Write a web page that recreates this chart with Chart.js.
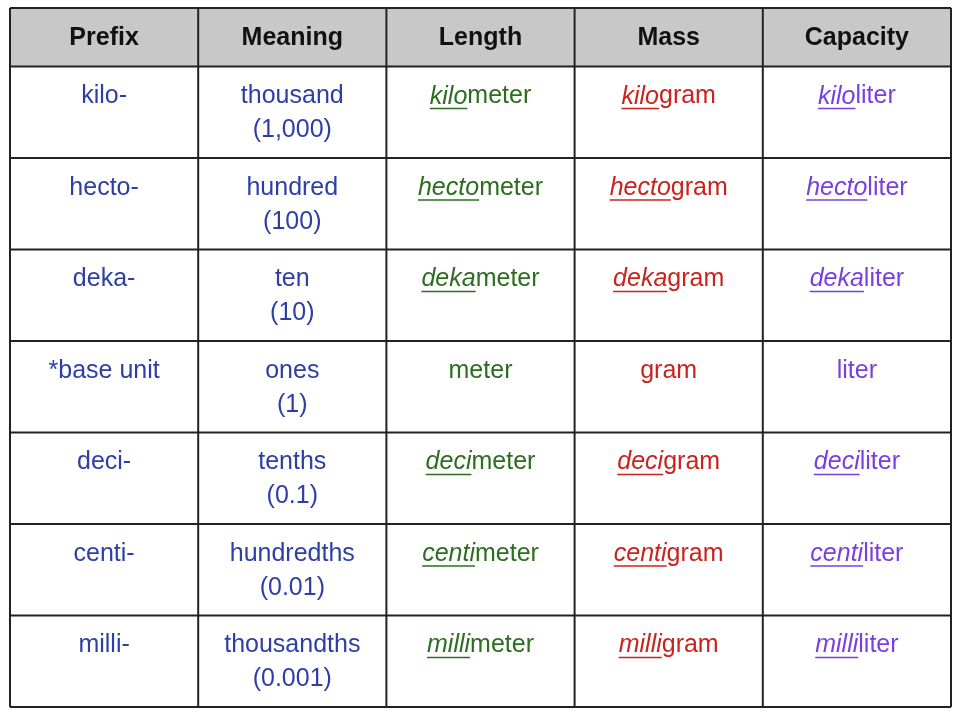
<!DOCTYPE html>
<html><head><meta charset="utf-8">
<script src="https://cdn.jsdelivr.net/npm/chart.js@4"></script>
<style>html,body{margin:0;padding:0;background:#fff}#c{display:block}</style>
</head><body>
<canvas id="c" width="960" height="720"></canvas>
<script>
const headers = ["Prefix","Meaning","Length","Mass","Capacity"];
const prefixes = ["kilo-","hecto-","deka-","*base unit","deci-","centi-","milli-"];
const meanings = ["thousand","hundred","ten","ones","tenths","hundredths","thousandths"];
const meaningValues = ["(1,000)","(100)","(10)","(1)","(0.1)","(0.01)","(0.001)"];
const stems = ["kilo","hecto","deka","","deci","centi","milli"];
const units = ["meter","gram","liter"];
const colors = ["#2d3fa6","#2c6e1f","#c8231d","#7a3fe0"];
const rowCount = prefixes.length;
const headerH = 0.64;

const cells = [];
for (let c = 0; c < headers.length; c++)
  for (let r = 0; r < rowCount; r++) cells.push({x: c + 0.5, y: headerH + r + 0.5});

const tablePlugin = {
  id: 'table',
  beforeDatasetsDraw(chart) {
    const {ctx, scales:{x, y}} = chart;
    const X = v => x.getPixelForValue(v), Y = v => y.getPixelForValue(v);
    ctx.save();
    ctx.fillStyle = '#c8c8c8';
    ctx.fillRect(X(0), Y(0), X(5)-X(0), Y(headerH)-Y(0));
    ctx.strokeStyle = '#222'; ctx.lineWidth = 2;
    for (let c = 0; c <= 5; c++) { ctx.beginPath(); ctx.moveTo(X(c), Y(0)); ctx.lineTo(X(c), Y(headerH+rowCount)); ctx.stroke(); }
    const ys = [0]; for (let r = 0; r <= rowCount; r++) ys.push(headerH + r);
    ys.forEach(v => { ctx.beginPath(); ctx.moveTo(X(0), Y(v)); ctx.lineTo(X(5), Y(v)); ctx.stroke(); });
    ctx.textBaseline = 'middle'; ctx.textAlign = 'center';
    ctx.font = 'bold 25px "Liberation Sans", Arial, sans-serif'; ctx.fillStyle = '#111';
    headers.forEach((h, c) => ctx.fillText(h, X(c+0.5), Y(headerH/2)+1));
    const norm = '25px "Liberation Sans", Arial, sans-serif';
    const ital = 'italic 25px "Liberation Sans", Arial, sans-serif';
    for (let r = 0; r < rowCount; r++) {
      const top = Y(headerH + r);
      const l1 = top + 30, l2 = top + 64;
      ctx.font = norm; ctx.textAlign = 'center'; ctx.fillStyle = colors[0];
      ctx.fillText(prefixes[r], X(0.5), l1);
      ctx.fillText(meanings[r], X(1.5), l1);
      ctx.fillText(meaningValues[r], X(1.5), l2);
      units.forEach((u, k) => {
        const cx = X(2.5 + k); ctx.fillStyle = colors[k+1];
        ctx.font = ital; const w1 = ctx.measureText(stems[r]).width;
        ctx.font = norm; const w2 = ctx.measureText(u).width;
        const sx = cx - (w1 + w2)/2;
        ctx.textAlign = 'left';
        if (stems[r]) {
          ctx.font = ital; ctx.fillText(stems[r], sx, l1);
          ctx.strokeStyle = colors[k+1]; ctx.lineWidth = 1.5;
          ctx.beginPath(); ctx.moveTo(sx, l1+12); ctx.lineTo(sx+w1, l1+12); ctx.stroke();
        }
        ctx.font = norm; ctx.fillText(u, sx + w1, l1);
        ctx.textAlign = 'center';
      });
    }
    ctx.restore();
  }
};

new Chart(document.getElementById('c'), {
  type: 'scatter',
  data: { datasets: [{ data: cells, pointRadius: 0, pointHoverRadius: 0 }] },
  options: {
    responsive: false, animation: false,
    layout: { padding: { left: 10, right: 9, top: 8, bottom: 13 } },
    plugins: { legend: { display: false }, tooltip: { enabled: false } },
    scales: {
      x: { type: 'linear', min: 0, max: 5, display: false },
      y: { type: 'linear', min: 0, max: headerH + rowCount, reverse: true, display: false }
    }
  },
  plugins: [tablePlugin]
});
</script>
</body></html>
